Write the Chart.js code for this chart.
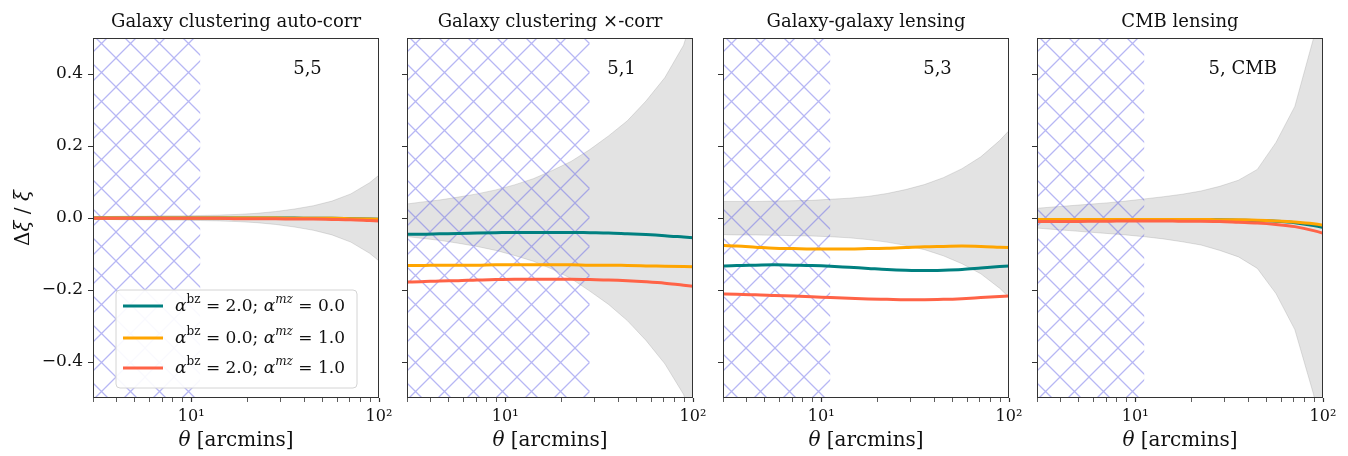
<!DOCTYPE html>
<html>
<head>
<meta charset="utf-8">
<script src="https://cdn.jsdelivr.net/npm/chart.js@4.4.0/dist/chart.umd.min.js"></script>
<style>
  body { margin: 0; background: #fff; width: 1348px; height: 456px; overflow: hidden; position: relative; }
  .panel { position: absolute; top: 0; width: 400px; height: 456px; }
</style>
</head>
<body>
<div class="panel" style="left:0px"><canvas id="c0" width="400" height="456"></canvas></div>
<div class="panel" style="left:314px"><canvas id="c1" width="400" height="456"></canvas></div>
<div class="panel" style="left:630px"><canvas id="c2" width="400" height="456"></canvas></div>
<div class="panel" style="left:944px"><canvas id="c3" width="400" height="456"></canvas></div>
<script>
// angular bins (arcmin), shared by every panel
const theta = [2.82, 3.55, 4.47, 5.62, 7.08, 8.91, 11.2, 14.1, 17.8, 22.4, 28.2, 35.5, 44.7, 56.2, 70.8, 89.1, 112];

const xTicks = [3, 4, 5, 6, 7, 8, 9, 10, 20, 30, 40, 50, 60, 70, 80, 90, 100];
const yTicks = [-0.4, -0.2, 0, 0.2, 0.4];

const panelTitles = ["Galaxy clustering auto-corr", "Galaxy clustering \u00d7-corr", "Galaxy-galaxy lensing", "CMB lensing"];
const binLabels = ["5,5", "5,1", "5,3", "5, CMB"];
const scaleCuts = [11.2, 28.2, 11.2, 11.2];

const alphaBz = ["2.0", "0.0", "2.0"];
const alphaMz = ["0.0", "1.0", "1.0"];

// 5,5 auto-correlation
const autoHi = [0.004, 0.004, 0.005, 0.005, 0.006, 0.006, 0.007, 0.008, 0.010, 0.013, 0.018, 0.025, 0.034, 0.047, 0.067, 0.098, 0.140];
const autoLo = [-0.004, -0.004, -0.005, -0.005, -0.006, -0.006, -0.007, -0.008, -0.010, -0.013, -0.018, -0.025, -0.034, -0.047, -0.067, -0.098, -0.140];
const autoBz2Mz0 = [0, 0, 0, 0, 0, 0, 0, 0, 0, 0, 0, 0, -0.001, -0.001, -0.002, -0.003, -0.004];
const autoBz0Mz1 = [0, 0, 0, 0, 0, 0, 0, 0, 0, 0, 0, -0.001, -0.001, -0.001, -0.002, -0.003, -0.004];
const autoBz2Mz1 = [-0.001, -0.001, -0.001, -0.001, -0.001, -0.001, -0.001, -0.001, -0.002, -0.002, -0.002, -0.003, -0.003, -0.004, -0.005, -0.007, -0.009];

// 5,1 cross-correlation
const crossHi = [0.037, 0.044, 0.050, 0.058, 0.067, 0.078, 0.092, 0.109, 0.132, 0.157, 0.190, 0.228, 0.270, 0.325, 0.390, 0.480, 0.650];
const crossLo = [-0.050, -0.056, -0.062, -0.070, -0.079, -0.090, -0.104, -0.120, -0.142, -0.168, -0.203, -0.240, -0.285, -0.340, -0.405, -0.490, -0.650];
const crossBz2Mz0 = [-0.045, -0.045, -0.044, -0.043, -0.042, -0.041, -0.040, -0.040, -0.040, -0.040, -0.041, -0.042, -0.044, -0.046, -0.049, -0.053, -0.057];
const crossBz0Mz1 = [-0.132, -0.132, -0.131, -0.131, -0.131, -0.130, -0.130, -0.130, -0.130, -0.130, -0.131, -0.131, -0.132, -0.133, -0.134, -0.135, -0.136];
const crossBz2Mz1 = [-0.178, -0.177, -0.175, -0.174, -0.172, -0.171, -0.170, -0.170, -0.170, -0.170, -0.171, -0.172, -0.174, -0.177, -0.181, -0.187, -0.192];

// 5,3 galaxy-galaxy lensing
const gglHi = [0.046, 0.046, 0.046, 0.047, 0.048, 0.049, 0.052, 0.055, 0.060, 0.068, 0.079, 0.093, 0.112, 0.137, 0.170, 0.215, 0.270];
const gglLo = [-0.046, -0.047, -0.047, -0.048, -0.049, -0.050, -0.052, -0.055, -0.060, -0.067, -0.076, -0.088, -0.105, -0.127, -0.155, -0.195, -0.245];
const gglBz2Mz0 = [-0.134, -0.132, -0.131, -0.130, -0.131, -0.132, -0.134, -0.137, -0.140, -0.143, -0.145, -0.146, -0.145, -0.143, -0.139, -0.135, -0.132];
const gglBz0Mz1 = [-0.076, -0.078, -0.081, -0.084, -0.085, -0.086, -0.086, -0.086, -0.085, -0.084, -0.082, -0.080, -0.079, -0.078, -0.079, -0.081, -0.083];
const gglBz2Mz1 = [-0.211, -0.212, -0.213, -0.215, -0.217, -0.219, -0.221, -0.223, -0.225, -0.226, -0.227, -0.227, -0.226, -0.224, -0.221, -0.218, -0.215];

// 5,CMB lensing
const cmbHi = [0.026, 0.030, 0.034, 0.038, 0.042, 0.047, 0.053, 0.059, 0.066, 0.075, 0.088, 0.105, 0.135, 0.210, 0.310, 0.500, 0.750];
const cmbLo = [-0.027, -0.031, -0.035, -0.039, -0.043, -0.047, -0.052, -0.058, -0.066, -0.075, -0.090, -0.108, -0.140, -0.210, -0.310, -0.490, -0.750];
const cmbBz2Mz0 = [-0.005, -0.005, -0.005, -0.004, -0.004, -0.004, -0.004, -0.004, -0.004, -0.005, -0.005, -0.006, -0.007, -0.009, -0.013, -0.021, -0.032];
const cmbBz0Mz1 = [-0.004, -0.004, -0.004, -0.004, -0.004, -0.004, -0.004, -0.004, -0.004, -0.004, -0.005, -0.005, -0.006, -0.008, -0.011, -0.016, -0.024];
const cmbBz2Mz1 = [-0.010, -0.010, -0.010, -0.009, -0.009, -0.008, -0.008, -0.008, -0.009, -0.009, -0.010, -0.012, -0.014, -0.018, -0.024, -0.035, -0.050];

const lineColors = ["#008080", "#ffa500", "#ff6347"];
const FONT = '"DejaVu Serif", serif';

const panels = [
    { hi: autoHi, lo: autoLo, lines: [autoBz2Mz0, autoBz0Mz1, autoBz2Mz1] },
    { hi: crossHi, lo: crossLo, lines: [crossBz2Mz0, crossBz0Mz1, crossBz2Mz1] },
    { hi: gglHi, lo: gglLo, lines: [gglBz2Mz0, gglBz0Mz1, gglBz2Mz1] },
    { hi: cmbHi, lo: cmbLo, lines: [cmbBz2Mz0, cmbBz0Mz1, cmbBz2Mz1] }
];

const toPoints = ys => ys.map((y, i) => ({ x: theta[i], y: y }));

// cross-hatch tile for the excluded small scales
function makeHatch(ctx) {
    const s = 29;
    const c = document.createElement("canvas");
    c.width = s; c.height = s;
    const g = c.getContext("2d");
    g.strokeStyle = "rgba(95,95,230,0.45)";
    g.lineWidth = 1.3;
    g.beginPath();
    g.moveTo(-2, -2); g.lineTo(s + 2, s + 2);
    g.moveTo(s + 2, -2); g.lineTo(-2, s + 2);
    g.stroke();
    return ctx.createPattern(c, "repeat");
}

// text made of runs: [text, size, italic, raise]
function drawRuns(ctx, runs, x, y, align) {
    let total = 0;
    runs.forEach(r => {
        ctx.font = (r[2] ? "italic " : "") + r[1] + "px " + FONT;
        total += ctx.measureText(r[0]).width;
    });
    let cx = align === "center" ? x - total / 2 : x;
    ctx.textAlign = "left";
    runs.forEach(r => {
        ctx.font = (r[2] ? "italic " : "") + r[1] + "px " + FONT;
        ctx.fillText(r[0], cx, y - (r[3] || 0));
        cx += ctx.measureText(r[0]).width;
    });
    return total;
}

function roundRect(ctx, x, y, w, h, r) {
    ctx.beginPath();
    ctx.moveTo(x + r, y);
    ctx.lineTo(x + w - r, y);
    ctx.arcTo(x + w, y, x + w, y + r, r);
    ctx.lineTo(x + w, y + h - r);
    ctx.arcTo(x + w, y + h, x + w - r, y + h, r);
    ctx.lineTo(x + r, y + h);
    ctx.arcTo(x, y + h, x, y + h - r, r);
    ctx.lineTo(x, y + r);
    ctx.arcTo(x, y, x + r, y, r);
    ctx.closePath();
}

const decorPlugin = {
    id: "decor",
    afterDraw(chart, args, opts) {
        const ctx = chart.ctx;
        const a = chart.chartArea;
        const idx = opts.index;
        const midX = (a.left + a.right) / 2;
        ctx.save();
        ctx.fillStyle = "#111";

        // axes box
        ctx.strokeStyle = "#333";
        ctx.lineWidth = 1;
        ctx.strokeRect(a.left + 0.5, a.top + 0.5, a.right - a.left - 1, a.bottom - a.top - 1);

        // title
        ctx.textBaseline = "alphabetic";
        ctx.font = "18px " + FONT;
        ctx.textAlign = "center";
        ctx.fillText(panelTitles[idx], midX, 27);

        // bin pair label
        ctx.font = "18px " + FONT;
        ctx.textAlign = "left";
        ctx.textBaseline = "middle";
        ctx.fillText(binLabels[idx], a.left + (a.right - a.left) * opts.labelFrac, 69);

        // x axis label
        drawRuns(ctx, [["\u03b8", 20, true], [" [arcmins]", 20, false]], midX, 441, "center");

        if (idx === 0) {
            // y axis label
            ctx.save();
            ctx.translate(24, (a.top + a.bottom) / 2);
            ctx.rotate(-Math.PI / 2);
            drawRuns(ctx, [["\u0394", 20, false], ["\u03be", 20, true], [" / ", 20, false], ["\u03be", 20, true]], 0, 0, "center");
            ctx.restore();

            // legend
            const bx = a.left + 23, by = a.top + 252, bw = 241, bh = 98;
            roundRect(ctx, bx, by, bw, bh, 4);
            ctx.fillStyle = "rgba(255,255,255,0.92)";
            ctx.fill();
            ctx.strokeStyle = "#d4d4d4";
            ctx.lineWidth = 1;
            ctx.stroke();
            const rows = [by + 16, by + 48, by + 78];
            for (let k = 0; k < 3; k++) {
                ctx.strokeStyle = lineColors[k];
                ctx.lineWidth = 3;
                ctx.beginPath();
                ctx.moveTo(bx + 7, rows[k]);
                ctx.lineTo(bx + 47, rows[k]);
                ctx.stroke();
                ctx.fillStyle = "#111";
                ctx.textBaseline = "middle";
                drawRuns(ctx, [
                    ["\u03b1", 17, true], ["bz", 12, false, 7], [" = " + alphaBz[k] + "; ", 17, false],
                    ["\u03b1", 17, true], ["mz", 12, true, 7], [" = " + alphaMz[k], 17, false]
                ], bx + 59, rows[k] + 1, "left");
            }
        }
        ctx.restore();
    }
};

panels.forEach((p, i) => {
    const canvas = document.getElementById("c" + i);
    const hatch = makeHatch(canvas.getContext("2d"));
    const datasets = [
        { data: toPoints(p.hi), fill: "+1", backgroundColor: "rgba(128,128,128,0.22)", borderColor: "rgba(128,128,128,0.3)", borderWidth: 0.8, pointRadius: 0, tension: 0, order: 5, clip: 0 },
        { data: toPoints(p.lo), fill: false, borderColor: "rgba(128,128,128,0.3)", borderWidth: 0.8, pointRadius: 0, tension: 0, order: 5, clip: 0 },
        { data: [{ x: theta[0], y: 0.5 }, { x: scaleCuts[i], y: 0.5 }], fill: "start", backgroundColor: hatch, borderWidth: 0, pointRadius: 0, order: 4, clip: 0 }
    ];
    p.lines.forEach((ys, k) => {
        datasets.push({
            data: toPoints(ys), borderColor: lineColors[k], borderWidth: 3, pointRadius: 0,
            fill: false, cubicInterpolationMode: "monotone", order: 3 - k, clip: 0
        });
    });

    new Chart(canvas, {
        type: "line",
        data: { datasets: datasets },
        options: {
            responsive: false,
            animation: false,
            events: [],
            layout: { padding: { top: 38, right: 21, left: 0, bottom: 0 } },
            scales: {
                x: {
                    type: "logarithmic",
                    min: 3,
                    max: 100,
                    afterBuildTicks: s => { s.ticks = xTicks.map(v => ({ value: v })); },
                    afterFit: s => { s.height = 58; },
                    border: { display: false },
                    grid: {
                        drawOnChartArea: false, tickLength: 4, tickColor: "#333",
                        tickWidth: c => (c.tick && (c.tick.value === 10 || c.tick.value === 100)) ? 1.2 : 0.8
                    },
                    ticks: {
                        autoSkip: false, maxRotation: 0, minRotation: 0, padding: 5, color: "#111",
                        font: { family: FONT, size: 16 },
                        callback: v => v === 10 ? "10\u00b9" : (v === 100 ? "10\u00b2" : "")
                    }
                },
                y: {
                    min: -0.5,
                    max: 0.5,
                    afterBuildTicks: s => { s.ticks = yTicks.map(v => ({ value: v })); },
                    afterFit: s => { s.width = 93; },
                    border: { display: false },
                    grid: { drawOnChartArea: false, tickLength: 5, tickColor: "#333", tickWidth: 1 },
                    ticks: {
                        padding: 5, color: "#111",
                        font: { family: FONT, size: 17 },
                        callback: v => i === 0 ? v.toFixed(1).replace("-", "\u2212") : ""
                    }
                }
            },
            plugins: {
                legend: { display: false },
                tooltip: { enabled: false },
                decor: { index: i, labelFrac: i === 3 ? 0.6 : 0.7 }
            }
        },
        plugins: [decorPlugin]
    });
});
</script>
</body>
</html>
